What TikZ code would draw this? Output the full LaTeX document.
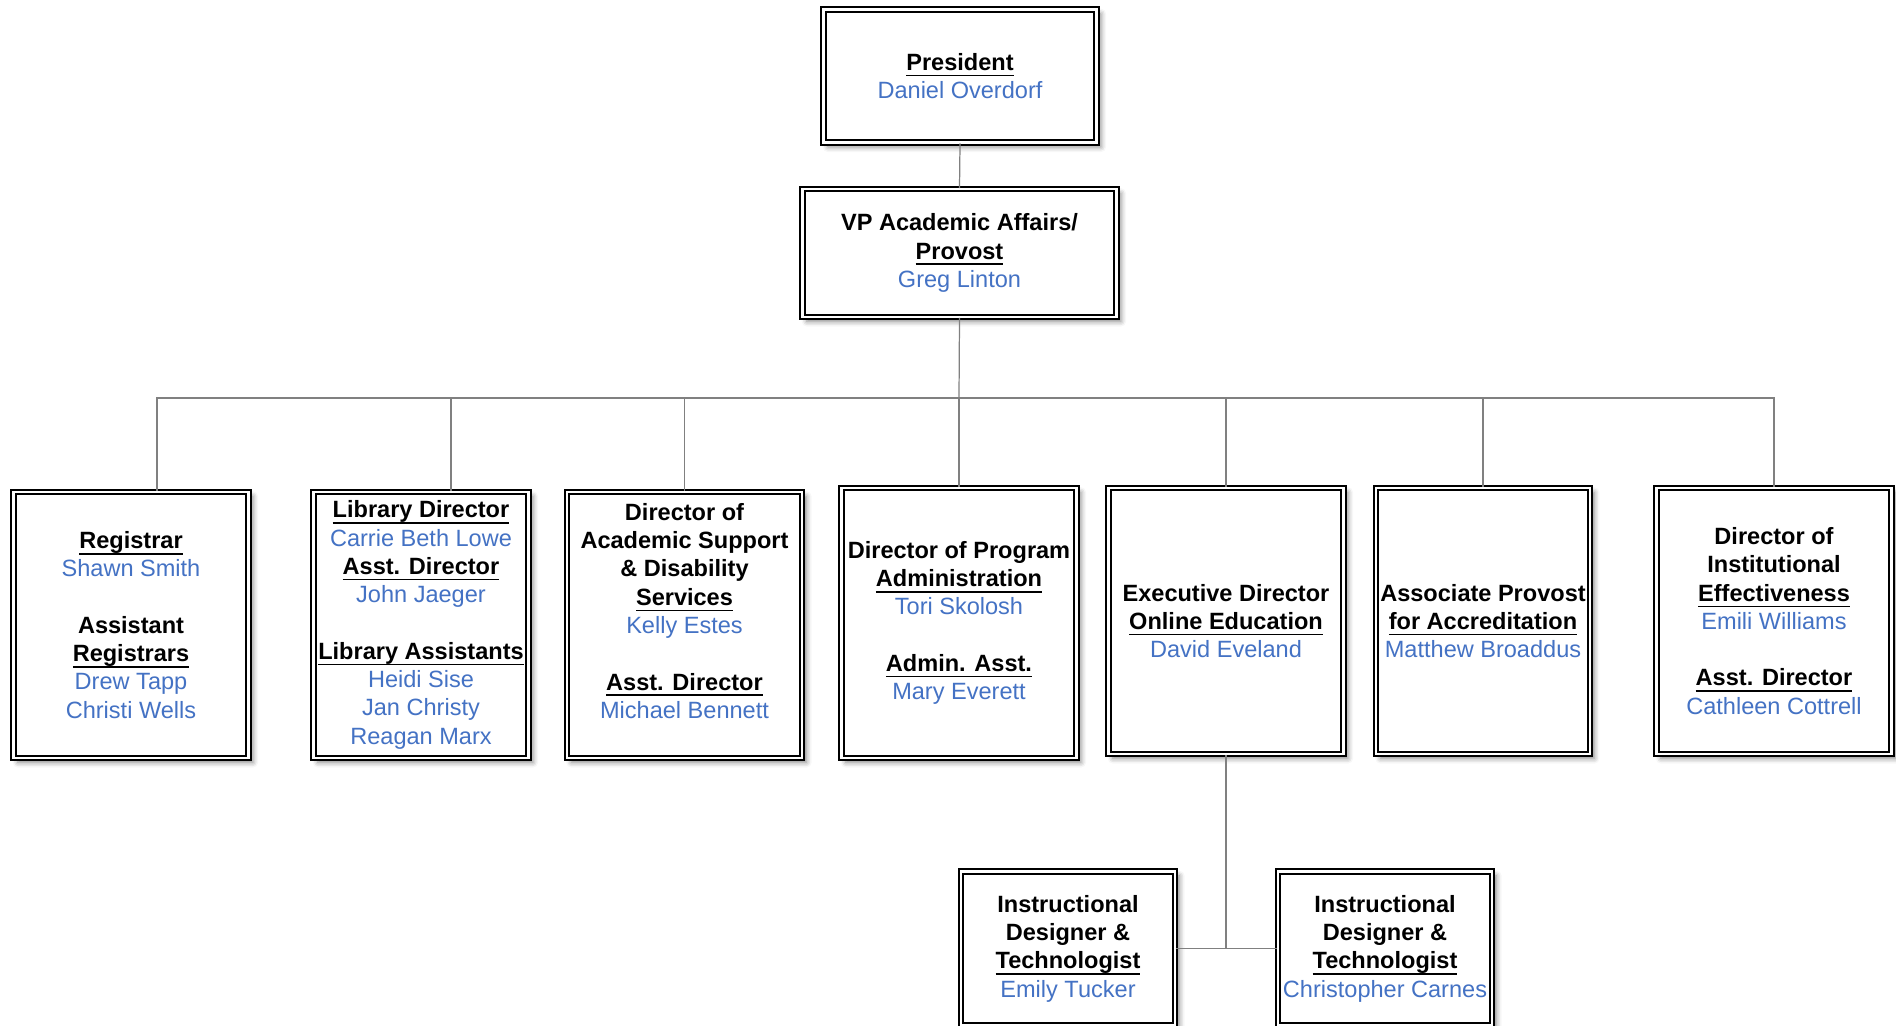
\documentclass[tikz,border=0pt]{standalone}
\usepackage{fontspec}
\setmainfont{Liberation Sans}
\usetikzlibrary{shadows.blur}
\definecolor{nameblue}{RGB}{68,114,196}
\definecolor{linkgray}{RGB}{128,128,128}
\newcommand{\jobtitle}[1]{\textbf{#1}}
\newcommand{\jobhead}[1]{\setbox0\hbox{\textbf{#1}}\rlap{\rule[-3.4pt]{\wd0}{0.9pt}}\box0}
\newcommand{\person}[1]{\textcolor{nameblue}{#1}}

\begin{document}
\begin{tikzpicture}[x=0.02cm,y=-0.02cm,
	box/.style={draw, double, line width=1pt, double distance=1.6pt, fill=white,
		align=center, inner sep=0pt, font=\fontsize{13.4pt}{16.1pt}\selectfont,
		blur shadow={shadow xshift=2.5pt, shadow yshift=-2.5pt, shadow blur radius=3pt, shadow opacity=50}},
	link/.style={draw=linkgray, line width=0.7pt}]
	\useasboundingbox (0,0) rectangle (1896,1026);
	\node[box, minimum width=5.46cm, minimum height=2.66cm] (pres) at (960,76) {\jobhead{President}\\ \person{Daniel Overdorf}};
	\node[box, minimum width=6.28cm, minimum height=2.56cm] (vp) at (959.5,253) {\jobtitle{VP Academic Affairs/}\\ \jobhead{Provost}\\ \person{Greg Linton}};
	\node[box, minimum width=4.70cm, minimum height=5.32cm] (reg) at (131,625) {\jobhead{Registrar}\\ \person{Shawn Smith}\\[16.1pt] \jobtitle{Assistant}\\ \jobhead{Registrars}\\ \person{Drew Tapp}\\ \person{Christi Wells}};
	\node[box, minimum width=4.30cm, minimum height=5.32cm] (lib) at (421,625) {\jobhead{Library Director}\\ \person{Carrie Beth Lowe}\\ \jobhead{Asst. Director}\\ \person{John Jaeger}\\[16.1pt] \jobhead{Library Assistants}\\ \person{Heidi Sise}\\ \person{Jan Christy}\\ \person{Reagan Marx}};
	\node[box, minimum width=4.70cm, minimum height=5.32cm] (acad) at (684.5,625) {\jobtitle{Director of}\\ \jobtitle{Academic Support}\\ \jobtitle{\& Disability}\\ \jobhead{Services}\\ \person{Kelly Estes}\\[16.1pt] \jobhead{Asst. Director}\\ \person{Michael Bennett}\\ \mbox{}};
	\node[box, minimum width=4.70cm, minimum height=5.40cm] (prog) at (959,623) {\jobtitle{Director of Program}\\ \jobhead{Administration}\\ \person{Tori Skolosh}\\[16.1pt] \jobhead{Admin. Asst.}\\ \person{Mary Everett}};
	\node[box, minimum width=4.70cm, minimum height=5.32cm] (online) at (1226,621) {\jobtitle{Executive Director}\\ \jobhead{Online Education}\\ \person{David Eveland}};
	\node[box, minimum width=4.28cm, minimum height=5.32cm] (assoc) at (1483,621) {\jobtitle{Associate Provost}\\ \jobhead{for Accreditation}\\ \person{Matthew Broaddus}};
	\node[box, minimum width=4.70cm, minimum height=5.32cm] (inst) at (1774,621) {\jobtitle{Director of}\\ \jobtitle{Institutional}\\ \jobhead{Effectiveness}\\ \person{Emili Williams}\\[16.1pt] \jobhead{Asst. Director}\\ \person{Cathleen Cottrell}};
	\node[box, minimum width=4.28cm, minimum height=3.08cm] (idt1) at (1068,948.5) {\jobtitle{Instructional}\\ \jobtitle{Designer \&}\\ \jobhead{Technologist}\\ \person{Emily Tucker}};
	\node[box, minimum width=4.28cm, minimum height=3.08cm] (idt2) at (1385,948.5) {\jobtitle{Instructional}\\ \jobtitle{Designer \&}\\ \jobhead{Technologist}\\ \person{Christopher Carnes}};
	% connectors
	\coordinate (bus) at (959,398);
	\draw[link] (pres.south) -- (vp.north);
	\draw[link] (vp.south) -- (bus);
	\draw[link] (bus) -| ([xshift=0.52cm]reg.north);
	\draw[link] (bus) -| ([xshift=0.6cm]lib.north);
	\draw[link] (bus) -| (acad.north);
	\draw[link] (bus) -| (prog.north);
	\draw[link] (bus) -| (online.north);
	\draw[link] (bus) -| (assoc.north);
	\draw[link] (bus) -| (inst.north);
	\draw[link] (online.south) |- (idt1.east);
	\draw[link] (online.south) |- (idt2.west);
\end{tikzpicture}
\end{document}
